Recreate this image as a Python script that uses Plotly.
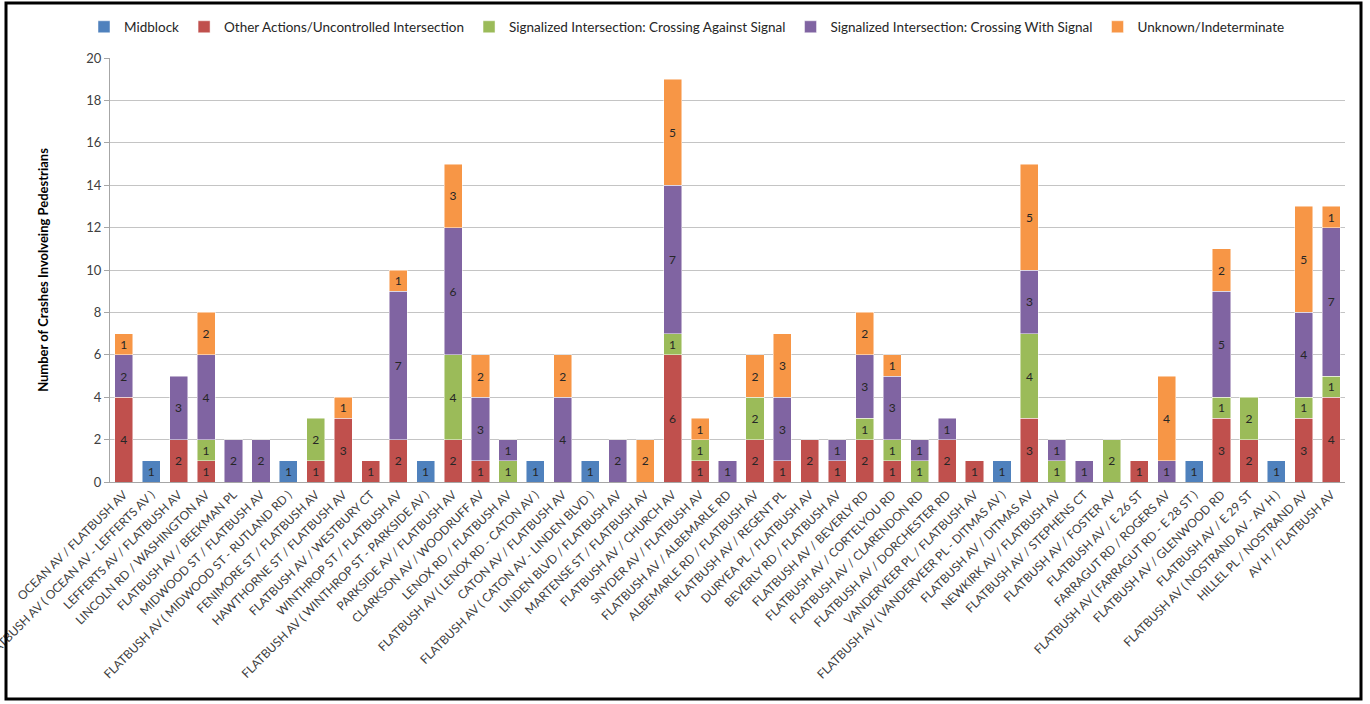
import plotly.graph_objects as go

categories = [
    "OCEAN AV / FLATBUSH AV",
    "FLATBUSH AV ( OCEAN AV - LEFFERTS AV )",
    "LEFFERTS AV / FLATBUSH AV",
    "LINCOLN RD / WASHINGTON AV",
    "FLATBUSH AV / BEEKMAN PL",
    "MIDWOOD ST / FLATBUSH AV",
    "FLATBUSH AV ( MIDWOOD ST - RUTLAND RD )",
    "FENIMORE ST / FLATBUSH AV",
    "HAWTHORNE ST / FLATBUSH AV",
    "FLATBUSH AV / WESTBURY CT",
    "WINTHROP ST / FLATBUSH AV",
    "FLATBUSH AV ( WINTHROP ST - PARKSIDE AV )",
    "PARKSIDE AV / FLATBUSH AV",
    "CLARKSON AV / WOODRUFF AV",
    "LENOX RD / FLATBUSH AV",
    "FLATBUSH AV ( LENOX RD - CATON AV )",
    "CATON AV / FLATBUSH AV",
    "FLATBUSH AV ( CATON AV - LINDEN BLVD )",
    "LINDEN BLVD / FLATBUSH AV",
    "MARTENSE ST / FLATBUSH AV",
    "FLATBUSH AV / CHURCH AV",
    "SNYDER AV / FLATBUSH AV",
    "FLATBUSH AV / ALBEMARLE RD",
    "ALBEMARLE RD / FLATBUSH AV",
    "FLATBUSH AV / REGENT PL",
    "DURYEA PL / FLATBUSH AV",
    "BEVERLY RD / FLATBUSH AV",
    "FLATBUSH AV / BEVERLY RD",
    "FLATBUSH AV / CORTELYOU RD",
    "FLATBUSH AV / CLARENDON RD",
    "FLATBUSH AV / DORCHESTER RD",
    "VANDERVEER PL / FLATBUSH AV",
    "FLATBUSH AV ( VANDERVEER PL - DITMAS AV )",
    "FLATBUSH AV / DITMAS AV",
    "NEWKIRK AV / FLATBUSH AV",
    "FLATBUSH AV / STEPHENS CT",
    "FLATBUSH AV / FOSTER AV",
    "FLATBUSH AV / E 26 ST",
    "FARRAGUT RD / ROGERS AV",
    "FLATBUSH AV ( FARRAGUT RD - E 28 ST )",
    "FLATBUSH AV / GLENWOOD RD",
    "FLATBUSH AV / E 29 ST",
    "FLATBUSH AV ( NOSTRAND AV - AV H )",
    "HILLEL PL / NOSTRAND AV",
    "AV H / FLATBUSH AV",
]

midblock = [0, 1, 0, 0, 0, 0, 1, 0, 0, 0, 0, 1, 0, 0, 0, 1, 0, 1, 0, 0, 0, 0, 0, 0, 0, 0, 0, 0, 0, 0, 0, 0, 1, 0, 0, 0, 0, 0, 0, 1, 0, 0, 1, 0, 0]
other = [4, 0, 2, 1, 0, 0, 0, 1, 3, 1, 2, 0, 2, 1, 0, 0, 0, 0, 0, 0, 6, 1, 0, 2, 1, 2, 1, 2, 1, 0, 2, 1, 0, 3, 0, 0, 0, 1, 0, 0, 3, 2, 0, 3, 4]
against = [0, 0, 0, 1, 0, 0, 0, 2, 0, 0, 0, 0, 4, 0, 1, 0, 0, 0, 0, 0, 1, 1, 0, 2, 0, 0, 0, 1, 1, 1, 0, 0, 0, 4, 1, 0, 2, 0, 0, 0, 1, 2, 0, 1, 1]
with_signal = [2, 0, 3, 4, 2, 2, 0, 0, 0, 0, 7, 0, 6, 3, 1, 0, 4, 0, 2, 0, 7, 0, 1, 0, 3, 0, 1, 3, 3, 1, 1, 0, 0, 3, 1, 1, 0, 0, 1, 0, 5, 0, 0, 4, 7]
unknown = [1, 0, 0, 2, 0, 0, 0, 0, 1, 0, 1, 0, 3, 2, 0, 0, 2, 0, 0, 2, 5, 1, 0, 2, 3, 0, 0, 2, 1, 0, 0, 0, 0, 5, 0, 0, 0, 0, 4, 0, 2, 0, 0, 5, 1]

series_names = [
    "Midblock",
    "Other Actions/Uncontrolled Intersection",
    "Signalized Intersection: Crossing Against Signal",
    "Signalized Intersection: Crossing With Signal",
    "Unknown/Indeterminate",
]
series_values = [midblock, other, against, with_signal, unknown]
series_colors = ["#4F81BD", "#C0504D", "#9BBB59", "#8064A2", "#F79646"]

FONT = "Lato"

fig = go.Figure()
for name, vals, col in zip(series_names, series_values, series_colors):
    fig.add_trace(go.Bar(
        name=name,
        x=categories,
        y=[v if v else None for v in vals],
        marker=dict(color=col, line=dict(color="rgba(255,255,255,0.6)", width=0.8)),
        text=[str(v) if v else "" for v in vals],
        textposition="inside",
        insidetextanchor="middle",
        textangle=0,
        textfont=dict(family=FONT, size=12, color="#262626"),
        hoverinfo="x+y+name",
    ))

ML, MR, MT, MB = 110, 25, 58, 222
W, H = 1370, 704
pw = W - ML - MR
ph = H - MT - MB

def px_x(p):
    return (p - ML) / pw

def px_y(p):
    return (H - MB - p) / ph

fig.update_layout(
    width=W, height=H,
    barmode="stack",
    bargap=0.34,
    plot_bgcolor="white",
    paper_bgcolor="white",
    margin=dict(l=ML, r=MR, t=MT, b=MB, autoexpand=False),
    font=dict(family=FONT, color="#404040"),
    showlegend=True,
    legend=dict(
        orientation="h",
        xref="container", yref="container",
        x=687 / W, xanchor="center",
        y=1 - 27 / H, yanchor="middle",
        font=dict(family=FONT, size=13.5, color="#262626"),
        traceorder="normal",
        itemwidth=30,
        bgcolor="rgba(0,0,0,0)",
    ),
    xaxis=dict(
        tickangle=-45,
        tickfont=dict(family=FONT, size=12, color="#404040"),
        showline=True, linecolor="#A6A6A6", linewidth=1,
        ticks="", showgrid=False,
        automargin=False,
    ),
    yaxis=dict(
        range=[0, 20],
        dtick=2,
        tickfont=dict(family=FONT, size=13, color="#404040"),
        showgrid=True, gridcolor="#C4C4C4", gridwidth=1,
        showline=True, linecolor="#A6A6A6", linewidth=1,
        ticks="outside", ticklen=5, tickcolor="#A6A6A6",
        zeroline=False,
        automargin=False,
        title=dict(
            text="<b>Number of Crashes Involveing Pedestrians</b>",
            font=dict(family=FONT, size=13, color="#000000"),
            standoff=34,
        ),
    ),
    shapes=[
        dict(
            type="rect", xref="paper", yref="paper",
            x0=px_x(6), x1=px_x(1361), y0=px_y(699), y1=px_y(3),
            line=dict(color="black", width=3), fillcolor="rgba(0,0,0,0)",
            layer="above",
        )
    ],
)

fig.write_html("out.html")
